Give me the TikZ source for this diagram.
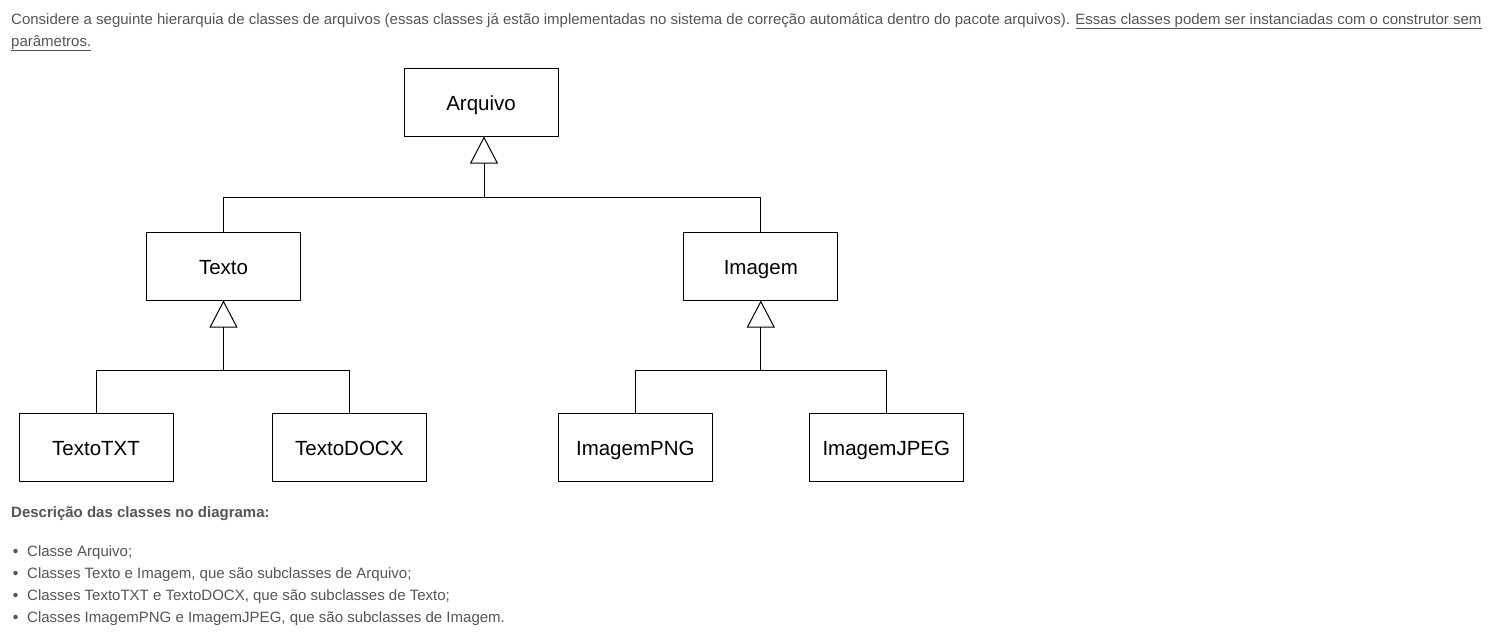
\documentclass[tikz,border=0pt]{standalone}
\usepackage{fontspec}
\setmainfont{Liberation Sans}
\usetikzlibrary{arrows.meta}
\definecolor{bodygray}{RGB}{85,85,85}
\tikzset{
  cls/.style={draw=black, line width=1pt, minimum width=154pt, minimum height=68pt, inner sep=0pt, text height=20pt, text depth=4pt, font=\fontsize{20.5}{24}\selectfont, text=black},
  conn/.style={draw=black, line width=1pt},
  inh/.style={conn, -{Triangle[open, length=27pt, width=28pt, line width=1pt]}},
  bodytxt/.style={anchor=base west, inner sep=0pt, text=bodygray, font=\fontsize{15}{22}\selectfont},
  bul/.style={fill=bodygray, draw=none, circle, inner sep=0pt, minimum size=4.5pt}
}
\begin{document}
\begin{tikzpicture}[x=1pt, y=-1pt]
\useasboundingbox (0,0) rectangle (1495,633);
% intro text
\node[bodytxt] (l1) at (11,24) {Considere a seguinte hierarquia de classes de arquivos (essas classes já estão implementadas no sistema de correção automática dentro do pacote arquivos). \underline{Essas classes podem ser instanciadas com o construtor sem}};
\node[bodytxt] (l2) at (11,46) {\underline{parâmetros.}};
% classes
\node[cls] (arq) at (481,102) {Arquivo};
\node[cls] (tex) at (223.5,266) {Texto};
\node[cls] (img) at (760.8,266) {Imagem};
\node[cls] (txt) at (96,447) {TextoTXT};
\node[cls] (docx) at (349.3,447) {TextoDOCX};
\node[cls] (png) at (635.3,447) {ImagemPNG};
\node[cls] (jpeg) at (886.3,447) {ImagemJPEG};
% junctions
\coordinate (j0) at (484,197.5);
\coordinate (j1) at (223.5,370);
\coordinate (j2) at (760.8,370);
% Arquivo hierarchy
\draw[inh] (j0) -- (j0 |- arq.south);
\draw[conn] (tex.north) |- (j0) -| (img.north);
% Texto hierarchy
\draw[inh] (j1) -- (tex.south);
\draw[conn] (txt.north) |- (j1) -| (docx.north);
% Imagem hierarchy
\draw[inh] (j2) -- (img.south);
\draw[conn] (png.north) |- (j2) -| (jpeg.north);
% description
\node[bodytxt, font=\fontsize{15}{22}\selectfont\bfseries] (hd) at (11,517) {Descrição das classes no diagrama:};
\node[bul] (b1) at (15.5,551) {};
\node[bul] (b2) at (15.5,573) {};
\node[bul] (b3) at (15.5,595) {};
\node[bul] (b4) at (15.5,617) {};
\node[bodytxt] (t1) at (27,556) {Classe Arquivo;};
\node[bodytxt] (t2) at (27,578) {Classes Texto e Imagem, que são subclasses de Arquivo;};
\node[bodytxt] (t3) at (27,600) {Classes TextoTXT e TextoDOCX, que são subclasses de Texto;};
\node[bodytxt] (t4) at (27,622) {Classes ImagemPNG e ImagemJPEG, que são subclasses de Imagem.};
\end{tikzpicture}
\end{document}
